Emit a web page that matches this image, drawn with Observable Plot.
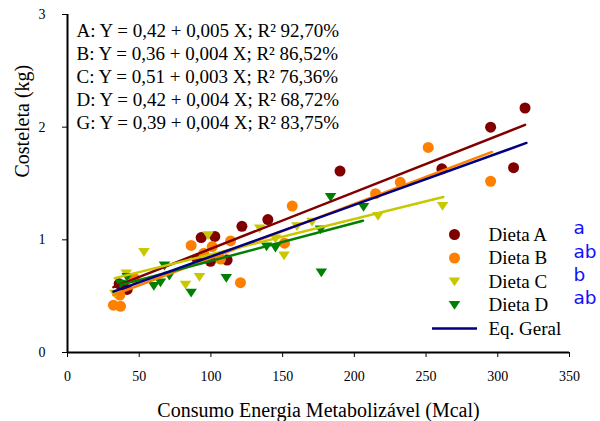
<!DOCTYPE html>
<html><head><meta charset="utf-8">
<script src="https://cdn.jsdelivr.net/npm/d3@7"></script>
<script src="https://cdn.jsdelivr.net/npm/@observablehq/plot@0.6"></script>
<style>body{margin:0;background:#fff}</style>
</head><body><div id="chart"></div>
<script>
// ---- data ----
const dietaA_x = [36, 41.6, 90.4, 93.2, 99.7, 102.7, 111.3, 121.6, 139.7, 190, 261, 295, 311, 319];
const dietaA_y = [0.61, 0.56, 0.83, 1.02, 0.81, 1.03, 0.82, 1.12, 1.18, 1.61, 1.63, 2.0, 1.64, 2.17];
const dietaB_x = [32, 37, 36.5, 46.5, 86.2, 95, 100.9, 106.7, 113.7, 120.6, 151.3, 156.7, 214.8, 232, 251.5, 295];
const dietaB_y = [0.42, 0.41, 0.51, 0.66, 0.95, 0.88, 0.94, 0.83, 0.99, 0.62, 0.97, 1.30, 1.41, 1.51, 1.82, 1.52];
const dietaC_x = [33, 41, 53.3, 82.3, 92, 98, 134, 145, 151, 160, 170.5, 216.5, 261.5];
const dietaC_y = [0.52, 0.70, 0.89, 0.60, 0.67, 1.04, 1.10, 1.01, 0.86, 1.12, 1.16, 1.21, 1.30];
const dietaD_x = [37, 41.6, 60.2, 64.8, 67.6, 71, 86.2, 110.7, 138.8, 145, 176.4, 177, 183.4, 206.4];
const dietaD_y = [0.61, 0.67, 0.59, 0.62, 0.77, 0.68, 0.53, 0.66, 0.94, 0.93, 1.09, 0.71, 1.38, 1.29];

// fitted lines (start / end values)
const lineNames = ["A", "B", "C", "D", "G"];
const lineX0 = [32, 32, 33, 37, 32];
const lineX1 = [319, 296, 262, 206, 320];
const lineY0 = [0.58, 0.51, 0.66, 0.60, 0.54];
const lineY1 = [2.02, 1.78, 1.38, 1.17, 1.86];

const equations = [
  "A: Y = 0,42 + 0,005 X; R² 92,70%",
  "B: Y = 0,36 + 0,004 X; R² 86,52%",
  "C: Y = 0,51 + 0,003 X; R² 76,36%",
  "D: Y = 0,42 + 0,004 X; R² 68,72%",
  "G: Y = 0,39 + 0,004 X; R² 83,75%"
];
const legendLabels = ["Dieta A", "Dieta B", "Dieta C", "Dieta D", "Eq. Geral"];
const letters = ["a", "ab", "b", "ab"];
const xTicks = [0, 50, 100, 150, 200, 250, 300, 350];
const yTicks = [0, 1, 2, 3];
const xLabel = "Consumo Energia Metabolizável (Mcal)";
const yLabel = "Costeleta (kg)";

// ---- styling ----
const colors = {A: "#800000", B: "#ff8000", C: "#c8c800", D: "#008000", G: "#000080"};
const serif = "'Liberation Serif', 'Times New Roman', Times, serif";

const triDown = {draw(ctx, size) {
  const r = Math.sqrt(size / Math.PI);
  ctx.moveTo(-r * 1.05, -r * 0.75);
  ctx.lineTo(r * 1.05, -r * 0.75);
  ctx.lineTo(0, r * 0.85);
  ctx.closePath();
}};
const hLine = {draw(ctx) { ctx.moveTo(-22.5, 0); ctx.lineTo(22.5, 0); }};

const toPts = (xs, ys) => xs.map((x, i) => ({x, y: ys[i]}));
const lines = lineNames.flatMap((s, i) => [
  {s, x: lineX0[i], y: lineY0[i]},
  {s, x: lineX1[i], y: lineY1[i]}
]);

const legendSymbols = [
  {symbol: "circle", fill: colors.A},
  {symbol: "circle", fill: colors.B},
  {symbol: triDown, fill: colors.C},
  {symbol: triDown, fill: colors.D},
  {symbol: hLine, stroke: colors.G}
];

const marks = [
  Plot.ruleX([0], {stroke: "black", strokeWidth: 2}),
  Plot.ruleY([0], {stroke: "black", strokeWidth: 2}),
  Plot.dot(toPts(dietaA_x, dietaA_y), {x: "x", y: "y", r: 5.5, fill: colors.A, symbol: "circle"}),
  Plot.dot(toPts(dietaB_x, dietaB_y), {x: "x", y: "y", r: 5.5, fill: colors.B, symbol: "circle"}),
  Plot.dot(toPts(dietaC_x, dietaC_y), {x: "x", y: "y", r: 5.5, fill: colors.C, symbol: triDown}),
  Plot.dot(toPts(dietaD_x, dietaD_y), {x: "x", y: "y", r: 5.5, fill: colors.D, symbol: triDown}),
  ...lineNames.map(n => Plot.line(lines.filter(d => d.s === n), {x: "x", y: "y", stroke: colors[n], strokeWidth: 2.5})),
  ...equations.map((t, i) => Plot.text([t], {frameAnchor: "top-left", dx: 9, dy: 16 + 23 * i, textAnchor: "start", lineAnchor: "middle", fontSize: 19, fontFamily: serif, fill: "black"})),
  ...legendLabels.map((t, i) => Plot.text([t], {frameAnchor: "bottom-right", dx: -81, dy: -118 + 23.5 * i, textAnchor: "start", lineAnchor: "middle", fontSize: 19, fontFamily: serif, fill: "black"})),
  ...legendSymbols.map((o, i) => Plot.dot([0], {frameAnchor: "bottom-right", dx: -115, dy: -118 + 23.5 * i, r: 5.5, strokeWidth: 2.5, ...o})),
  ...letters.map((t, i) => Plot.text([t], {frameAnchor: "bottom-right", dx: 4, dy: -124 + 23.3 * i, textAnchor: "start", lineAnchor: "middle", fontSize: 18.5, fontFamily: "'DejaVu Sans', Verdana, sans-serif", fill: "#1010ff"})),
  Plot.text([xLabel], {frameAnchor: "bottom", dy: 58, lineAnchor: "middle", fontSize: 20, fontFamily: serif, fill: "black"}),
  Plot.text([yLabel], {frameAnchor: "left", dx: -45, dy: -6, rotate: -90, lineAnchor: "middle", fontSize: 20, fontFamily: serif, fill: "black"})
];

const chart = Plot.plot({
  width: 600, height: 421,
  marginLeft: 67, marginRight: 31, marginTop: 14, marginBottom: 69,
  style: {fontFamily: serif, fontSize: "14px", background: "white", color: "black", overflow: "visible"},
  x: {domain: [0, 350], ticks: xTicks, tickSize: 5, tickPadding: 14, label: null, tickFormat: d => String(d)},
  y: {domain: [0, 3], ticks: yTicks, tickSize: 5, tickPadding: 17, label: null, tickFormat: d => String(d)},
  marks
});
document.getElementById("chart").appendChild(chart);
</script></body></html>
